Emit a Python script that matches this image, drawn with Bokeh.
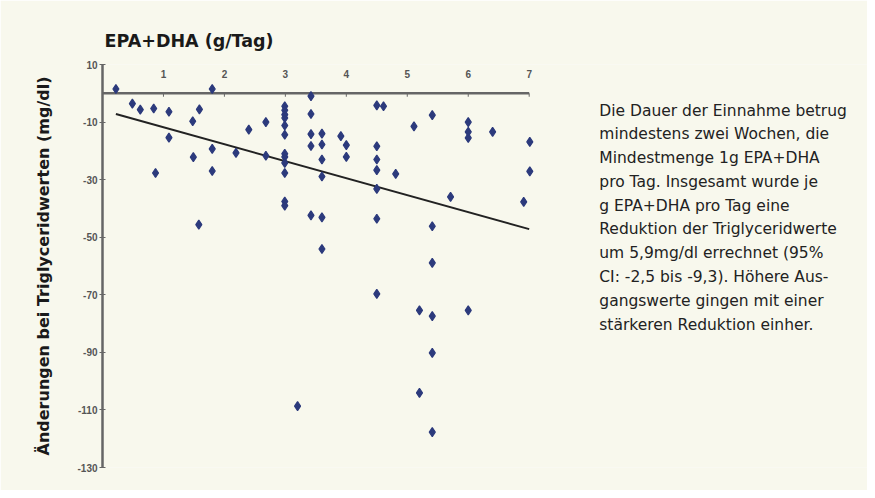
from bokeh.plotting import figure
from bokeh.models import FixedTicker, Title
from bokeh.core.properties import value
from bokeh.embed import file_html
from bokeh.resources import INLINE

# ---- data ----
dose = [0.22, 1.80, 0.49, 0.62, 0.84, 1.09, 1.59, 1.48, 1.09, 0.87, 1.49, 1.80, 1.80,
        2.19, 2.40, 2.68, 2.68,
        2.99, 2.99, 2.99, 2.99, 2.99, 2.99, 2.99, 2.99, 2.99, 2.99, 2.99, 2.99,
        3.42, 3.42, 3.42, 3.42, 3.42,
        3.60, 3.60, 3.60, 3.60, 3.60, 3.60,
        3.20, 3.91, 4.00, 4.00,
        4.50, 4.61, 4.50, 4.50, 4.50, 4.50, 4.50, 4.50, 4.81,
        5.11, 5.41, 5.41, 5.41, 5.41, 5.41, 5.41, 5.20, 5.20, 5.71,
        6.00, 6.00, 6.00, 6.00, 6.40, 7.01, 7.01, 6.91, 1.58]
change = [1.5, 1.5, -3.6, -5.7, -5.3, -6.4, -5.6, -9.7, -15.4, -27.7, -22.2, -19.3, -27.0,
          -20.7, -12.6, -10.0, -21.7,
          -4.5, -5.9, -7.4, -8.6, -11.2, -14.4, -21.0, -22.1, -24.2, -27.7, -37.6, -39.0,
          -1.0, -7.2, -14.2, -18.3, -42.4,
          -14.0, -17.8, -23.0, -28.9, -43.1, -54.1,
          -108.7, -14.9, -18.0, -22.1,
          -4.2, -4.5, -18.4, -23.0, -26.7, -33.2, -43.6, -69.7, -28.0,
          -11.5, -7.6, -46.2, -58.9, -77.4, -90.2, -117.7, -75.4, -104.1, -36.0,
          -10.0, -13.4, -15.5, -75.4, -13.4, -16.9, -27.1, -37.7, -45.6]

fit_intercept = -5.9
fit_slope = -5.9
fit_x = [0.22, 7.0]

x_ticks = [1, 2, 3, 4, 5, 6, 7]
x_tick_labels = ["1", "2", "3", "4", "5", "6", "7"]
y_ticks = [10, -10, -30, -50, -70, -90, -110, -130]
y_tick_labels = ["10", "-10", "-30", "-50", "-70", "-90", "-110", "-130"]

title_text = "EPA+DHA (g/Tag)"
y_title = "Änderungen bei Triglyceridwerten (mg/dl)"
note_lines = [
    "Die Dauer der Einnahme betrug",
    "mindestens zwei Wochen, die",
    "Mindestmenge 1g EPA+DHA",
    "pro Tag. Insgesamt wurde je",
    "g EPA+DHA pro Tag eine",
    "Reduktion der Triglyceridwerte",
    "um 5,9mg/dl errechnet (95%",
    "CI: -2,5 bis -9,3). Höhere Aus-",
    "gangswerte gingen mit einer",
    "stärkeren Reduktion einher.",
]

BG = "#f8f8ed"
AXIS = "#666666"
TICKTXT = "#555555"
HEAD_FONT = "DejaVu Sans"

p = figure(width=867, height=490, x_range=(0, 12.55), y_range=(-130, 10),
           output_backend="svg", toolbar_location=None,
           min_border_left=102, min_border_right=0, min_border_top=64, min_border_bottom=23)
p.background_fill_color = BG
p.border_fill_color = BG
p.outline_line_color = None
p.xgrid.visible = False
p.ygrid.visible = False
p.xaxis.visible = False

# y axis
ya = p.yaxis[0]
ya.ticker = FixedTicker(ticks=y_ticks)
ya.major_label_overrides = {t: l for t, l in zip(y_ticks, y_tick_labels)}
ya.axis_line_color = AXIS
ya.axis_line_width = 2.5
ya.major_tick_line_color = AXIS
ya.major_tick_in = 3
ya.major_tick_out = 3
ya.minor_tick_line_color = None
ya.major_label_text_font = "Liberation Sans"
ya.major_label_text_font_style = "bold"
ya.major_label_text_font_size = "10px"
ya.major_label_text_color = TICKTXT
ya.major_label_standoff = 2
ya.axis_label = y_title
ya.axis_label_text_font = HEAD_FONT
ya.axis_label_text_font_style = "bold"
ya.axis_label_text_font_size = "16px"
ya.axis_label_text_color = "#1a1a1a"
ya.axis_label_standoff = 21

# title
p.add_layout(Title(text=title_text, align="left", text_font=HEAD_FONT,
                   text_font_style="bold", text_font_size="17.5px",
                   text_color="#1a1a1a", standoff=27, offset=2), "above")

# x axis drawn at y = 0 with labels above it
p.segment(x0=[0], y0=[0], x1=[max(x_ticks)], y1=[0], line_color=AXIS, line_width=2.5)
p.segment(x0=x_ticks, y0=[0] * len(x_ticks), x1=x_ticks, y1=[-1.2] * len(x_ticks),
          line_color=AXIS, line_width=1)
p.text(x=x_ticks, y=[6.8] * len(x_ticks), text=x_tick_labels,
       text_font=value("Liberation Sans"), text_font_style="bold", text_font_size="10px",
       text_color=TICKTXT, text_align="center", text_baseline="middle")

# regression line
fit_y = [fit_intercept + fit_slope * x for x in fit_x]
p.line(fit_x, fit_y, line_color="#222222", line_width=2)

# points
p.scatter(dose, change, marker="diamond", size=9, fill_color="#2c3a7c",
          line_color="#2c3a7c", line_width=1.2)

# note text (placed right of the chart)
note_x = [8.15] * len(note_lines)
note_y = [-6.0 - i * 8.26 for i in range(len(note_lines))]
p.text(x=note_x, y=note_y, text=note_lines, text_font=value("DejaVu Sans"),
       text_font_size="15.5px", text_color="#222222",
       text_baseline="alphabetic", text_align="left")

open("out.html", "w").write(file_html(p, INLINE))
